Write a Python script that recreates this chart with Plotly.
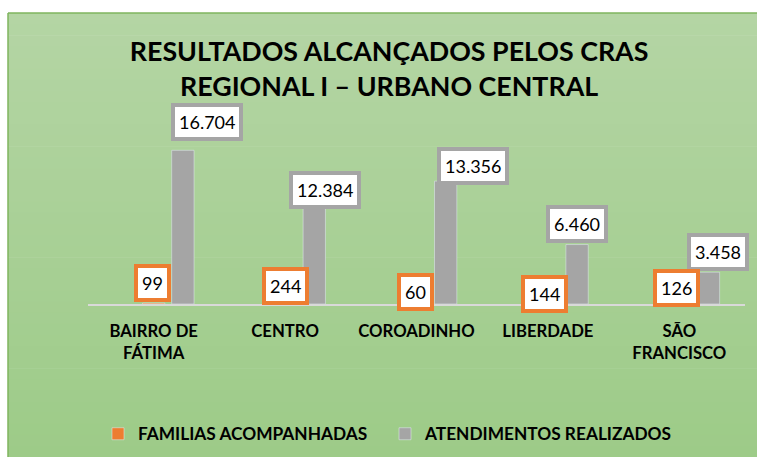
import plotly.graph_objects as go

# ---- data ----
categories = ["BAIRRO DE<br>FÁTIMA", "CENTRO", "COROADINHO", "LIBERDADE", "SÃO<br>FRANCISCO"]
familias = [99, 244, 60, 144, 126]
atendimentos = [16704, 12384, 13356, 6460, 3458]
series_names = ["FAMILIAS ACOMPANHADAS", "ATENDIMENTOS REALIZADOS"]
title_lines = ["RESULTADOS ALCANÇADOS PELOS CRAS", "REGIONAL I – URBANO CENTRAL"]

# ---- style ----
ORANGE = "#ed7d31"
GRAY = "#a5a5a5"
FONT = "Lato"
W, H = 757, 457
L, R, T, B = 88, 12, 120, 153
PW, PH = W - L - R, H - T - B
BAR_W = 0.17
ORANGE_OFF = -BAR_W / 2
GRAY_CENTER = 0.222
GRAY_OFF = GRAY_CENTER - BAR_W / 2

# label pixel nudges (manually placed labels in the original)
gray_dx = [24, 11, 27, 0, 10]
gray_dy = [28, 0, 15, 21, 20]
orange_dx = [-1, 0, -1, -3, -3]
orange_dy = [20, 16, 11, 9, 15]


def fmt(v):
    return f"{v:,}".replace(",", ".")


def px_to_paper_x(px):
    return (px - L) / PW


def px_to_paper_y(py):
    return (H - B - py) / PH


fig = go.Figure()
fig.add_trace(go.Bar(
    x=list(range(len(categories))), y=familias, name=series_names[0],
    marker_color=ORANGE, width=BAR_W, offset=ORANGE_OFF,
))
fig.add_trace(go.Bar(
    x=list(range(len(categories))), y=atendimentos, name=series_names[1],
    marker_color=GRAY, width=BAR_W, offset=GRAY_OFF,
))

# gradient background via bands
shapes = []
top_c = (180, 213, 164)
bot_c = (157, 203, 136)
n = 40
fx0, fy0 = 8, 13
for i in range(n):
    t = i / (n - 1)
    c = tuple(round(top_c[k] + (bot_c[k] - top_c[k]) * t) for k in range(3))
    y0 = fy0 + (H - fy0) * i / n
    y1 = fy0 + (H - fy0) * (i + 1) / n + 0.6
    shapes.append(dict(
        type="rect", xref="paper", yref="paper", layer="below",
        x0=px_to_paper_x(fx0), x1=px_to_paper_x(W + 2),
        y0=px_to_paper_y(y0), y1=px_to_paper_y(y1),
        fillcolor=f"rgb{c}", line_width=0,
    ))
# frame border (left & top)
shapes.append(dict(type="line", xref="paper", yref="paper", layer="below",
                   x0=px_to_paper_x(fx0), x1=px_to_paper_x(W + 2),
                   y0=px_to_paper_y(fy0), y1=px_to_paper_y(fy0),
                   line=dict(color="#7fb45e", width=1.5)))
shapes.append(dict(type="line", xref="paper", yref="paper", layer="below",
                   x0=px_to_paper_x(fx0), x1=px_to_paper_x(fx0),
                   y0=px_to_paper_y(fy0), y1=px_to_paper_y(H + 2),
                   line=dict(color="#7fb45e", width=1.5)))

annotations = []
for i, v in enumerate(atendimentos):
    annotations.append(dict(
        x=i + GRAY_CENTER, y=v, xref="x", yref="y", text=fmt(v), showarrow=False,
        xshift=gray_dx[i], yshift=gray_dy[i],
        font=dict(family=FONT, size=18, color="black"),
        bgcolor="white", bordercolor=GRAY, borderwidth=4, borderpad=4,
    ))
for i, v in enumerate(familias):
    annotations.append(dict(
        x=i, y=v, xref="x", yref="y", text=fmt(v), showarrow=False,
        xshift=orange_dx[i], yshift=orange_dy[i],
        font=dict(family=FONT, size=18, color="black"),
        bgcolor="white", bordercolor=ORANGE, borderwidth=4, borderpad=4,
    ))

fig.update_layout(
    width=W, height=H,
    margin=dict(l=L, r=R, t=T, b=B, pad=0, autoexpand=False),
    paper_bgcolor="white",
    plot_bgcolor="rgba(0,0,0,0)",
    barmode="overlay",
    showlegend=True,
    title=dict(
        text="<br>".join(title_lines), x=0.514, xanchor="center",
        y=1 - 61 / H, yanchor="middle",
        font=dict(family=FONT, size=26.8, color="black", weight="bold"),
    ),
    legend=dict(
        orientation="h", x=px_to_paper_x(98), xanchor="left",
        y=px_to_paper_y(434), yanchor="middle",
        font=dict(family=FONT, size=17.3, color="black", weight="bold"),
        bgcolor="rgba(0,0,0,0)", entrywidth=242, traceorder="normal",
    ),
    shapes=shapes,
    annotations=annotations,
    xaxis=dict(
        tickmode="array", tickvals=list(range(len(categories))), ticktext=categories,
        range=[-0.5, len(categories) - 0.5],
        showline=True, linecolor="#d9d9d9", linewidth=1.5,
        showgrid=False, zeroline=False, ticks="",
        tickfont=dict(family=FONT, size=16.7, color="black", weight="bold"),
        ticklabelstandoff=11,
    ),
    yaxis=dict(range=[0, 20000], visible=False, showgrid=False),
)

fig.write_html(
    "out.html",
    config={"displayModeBar": False},
    post_script="document.body.style.margin='0';document.body.style.overflow='hidden';",
)
